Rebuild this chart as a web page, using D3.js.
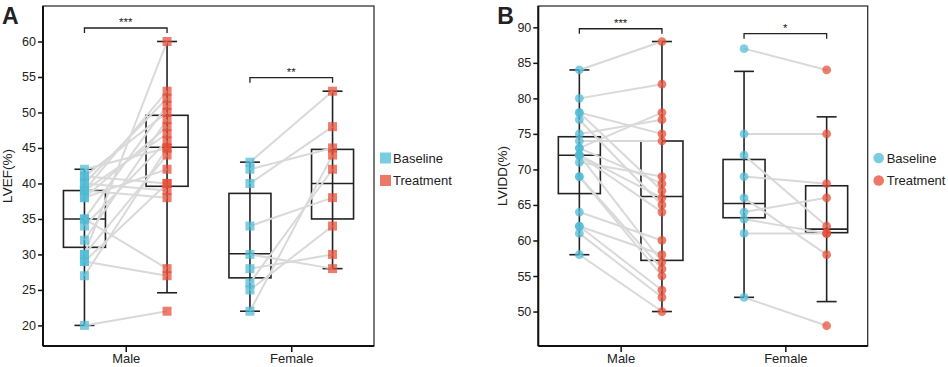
<!DOCTYPE html>
<html>
<head>
<meta charset="utf-8">
<script src="https://cdn.jsdelivr.net/npm/d3@7"></script>
<style>
	body { margin: 0; background: #ffffff; }
	text { font-family: "Liberation Sans", Arial, sans-serif; fill: #222222; }
</style>
</head>
<body>
<svg id="chart" width="948" height="367"></svg>
<script>

var vsGroups = ["Male", "Female"];
var vsSeries = ["Baseline", "Treatment"];

// LVEF (%) - panel A, paired values (baseline[i] -> treatment[i])
var vnLvefMaleBase   = [42, 41, 41, 40, 40, 39, 39, 39, 38, 38, 35, 35, 34, 32, 30, 30, 29, 29, 27, 20];
var vnLvefMaleTreat  = [45, 50, 40, 52, 39, 47, 38, 53, 42, 48, 28, 51, 46, 49, 60, 44, 40, 27, 45, 22];
var vnLvefFemaleBase  = [43, 42, 40, 34, 30, 28, 26, 25, 22];
var vnLvefFemaleTreat = [53, 45, 48, 38, 28, 30, 42, 34, 44];

// box stats: [whisker low, q1, median, q3, whisker high]
var vnLvefBoxMaleBase    = [20, 31, 35, 39, 42];
var vnLvefBoxMaleTreat   = [24.6, 39.6, 45.1, 49.6, 60];
var vnLvefBoxFemaleBase  = [22, 26.7, 30.1, 38.6, 43];
var vnLvefBoxFemaleTreat = [28, 35, 40, 44.8, 53];

var vnLvefTicks = [20, 25, 30, 35, 40, 45, 50, 55, 60];
var vsLvefSig = ["***", "**"];
var vnLvefSigAt = [61.9, 54.9];

// LVIDD (%) - panel B
var vnLviddMaleBase   = [84, 80, 78, 78, 77, 75, 74, 73, 73, 72, 72, 72, 71, 69, 69, 64, 62, 62, 61, 58];
var vnLviddMaleTreat  = [88, 82, 75, 67, 65, 77, 74, 78, 68, 66, 64, 57, 69, 56, 55, 60, 58, 53, 52, 50];
var vnLviddFemaleBase  = [87, 75, 72, 69, 66, 64, 63, 61, 52];
var vnLviddFemaleTreat = [84, 75, 62, 68, 58, 66, 61, 61, 48];

var vnLviddBoxMaleBase    = [58, 66.6, 72, 74.6, 84];
var vnLviddBoxMaleTreat   = [50, 57.2, 66.2, 74, 88];
var vnLviddBoxFemaleBase  = [52, 63.2, 65.2, 71.4, 83.8];
var vnLviddBoxFemaleTreat = [51.4, 61.1, 61.6, 67.7, 77.4];

var vnLviddTicks = [50, 55, 60, 65, 70, 75, 80, 85, 90];
var vsLviddSig = ["***", "*"];
var vnLviddSigAt = [89.8, 89.1];

var g_colorBase  = "#4DBBD5";
var g_colorTreat = "#E64B35";
var g_colorPair  = "#d9d9d9";

var g_domSVG = d3.select("#chart");

function funcDrawPanel(opt) {

	var nTop = 6, nBottom = 346;

	var scaleY = d3.scaleLinear().domain(opt.domain).range([nBottom, nTop]);
	var scaleX = d3.scalePoint().domain(vsGroups).range([opt.left, opt.right]).padding(0.5);
	var scaleOff = d3.scalePoint().domain(vsSeries).range([-41.3, 41.3]);
	var vColor = [g_colorBase, g_colorTreat];

	var g = g_domSVG.append("g");

	// frame
	g.append("rect")
		.attr("x", opt.left).attr("y", nTop)
		.attr("width", opt.right - opt.left).attr("height", nBottom - nTop)
		.attr("fill", "none").attr("stroke", "#333").attr("stroke-width", 1.3);

	var axisY = d3.axisLeft(scaleY).tickValues(opt.ticks).tickSize(5).tickPadding(2).tickSizeOuter(0);
	var gy = g.append("g").attr("transform", "translate(" + opt.left + ",0)").call(axisY);
	gy.select(".domain").attr("d", "M0," + nTop + "V" + nBottom).attr("stroke", "#111").attr("stroke-width", 2);
	gy.selectAll(".tick line").attr("stroke", "#111").attr("stroke-width", 1.5);
	gy.selectAll(".tick text").attr("font-size", "12.5px").attr("fill", "#222")
		.attr("font-family", "Liberation Sans, Arial, sans-serif");

	var axisX = d3.axisBottom(scaleX).tickSize(6).tickPadding(2).tickSizeOuter(0);
	var gx = g.append("g").attr("transform", "translate(0," + nBottom + ")").call(axisX);
	gx.select(".domain").attr("d", "M" + opt.left + ",0H" + opt.right).attr("stroke", "#111").attr("stroke-width", 2);
	gx.selectAll(".tick line").attr("stroke", "#111").attr("stroke-width", 1.5);
	gx.selectAll(".tick text").attr("font-size", "13px").attr("fill", "#222")
		.attr("font-family", "Liberation Sans, Arial, sans-serif");

	g.append("text")
		.attr("transform", "translate(" + (opt.left - 31) + "," + ((nTop + nBottom) / 2) + ") rotate(-90)")
		.attr("text-anchor", "middle")
		.attr("font-size", "13.5px")
		.text(opt.label);

	g.append("text")
		.attr("x", opt.left - 41).attr("y", 24)
		.attr("font-size", "23px").attr("font-weight", "bold").attr("fill", "#000")
		.text(opt.letter);

	// boxes
	var nBoxW = 42, nCapW = 20;
	vsGroups.forEach(function(grp, gi) {
		vsSeries.forEach(function(ser, si) {
			var b = opt.boxes[gi][si];
			var cx = scaleX(grp) + scaleOff(ser);
			g.append("line")
				.attr("x1", cx).attr("x2", cx)
				.attr("y1", scaleY(b[0])).attr("y2", scaleY(b[4]))
				.attr("stroke", "#222").attr("stroke-width", 1.6);
			[b[0], b[4]].forEach(function(v) {
				g.append("line")
					.attr("x1", cx - nCapW / 2).attr("x2", cx + nCapW / 2)
					.attr("y1", scaleY(v)).attr("y2", scaleY(v))
					.attr("stroke", "#222").attr("stroke-width", 1.6);
			});
			g.append("rect")
				.attr("x", cx - nBoxW / 2).attr("y", scaleY(b[3]))
				.attr("width", nBoxW).attr("height", scaleY(b[1]) - scaleY(b[3]))
				.attr("fill", "none").attr("stroke", "#222").attr("stroke-width", 1.6);
			g.append("line")
				.attr("x1", cx - nBoxW / 2).attr("x2", cx + nBoxW / 2)
				.attr("y1", scaleY(b[2])).attr("y2", scaleY(b[2]))
				.attr("stroke", "#222").attr("stroke-width", 1.6);
		});
	});

	// paired lines
	vsGroups.forEach(function(grp, gi) {
		var vBase = opt.values[gi][0], vTreat = opt.values[gi][1];
		g.selectAll(null)
			.data(d3.range(vBase.length))
			.enter()
			.append("line")
				.attr("x1", scaleX(grp) + scaleOff("Baseline"))
				.attr("x2", scaleX(grp) + scaleOff("Treatment"))
				.attr("y1", function(i) { return scaleY(vBase[i]); })
				.attr("y2", function(i) { return scaleY(vTreat[i]); })
				.attr("stroke", g_colorPair)
				.attr("stroke-width", 2);
	});

	// points
	vsGroups.forEach(function(grp, gi) {
		vsSeries.forEach(function(ser, si) {
			var cx = scaleX(grp) + scaleOff(ser);
			var sel = g.selectAll(null).data(opt.values[gi][si]).enter();
			if (opt.shape == "square") {
				sel.append("rect")
					.attr("x", cx - 4.5)
					.attr("y", function(d) { return scaleY(d) - 4.5; })
					.attr("width", 9).attr("height", 9)
					.attr("fill", vColor[si]).attr("fill-opacity", 0.72);
			} else {
				sel.append("circle")
					.attr("cx", cx)
					.attr("cy", function(d) { return scaleY(d); })
					.attr("r", 4.4)
					.attr("fill", vColor[si]).attr("fill-opacity", 0.72);
			}
		});
	});

	// significance brackets
	vsGroups.forEach(function(grp, gi) {
		var x1 = scaleX(grp) + scaleOff("Baseline");
		var x2 = scaleX(grp) + scaleOff("Treatment");
		var y = scaleY(opt.sigAt[gi]);
		g.append("path")
			.attr("d", "M" + x1 + "," + (y + 5) + "V" + y + "H" + x2 + "V" + (y + 5))
			.attr("fill", "none").attr("stroke", "#222").attr("stroke-width", 1.3);
		g.append("text")
			.attr("x", (x1 + x2) / 2).attr("y", y - 2)
			.attr("text-anchor", "middle")
			.attr("font-size", "11.5px")
			.text(opt.sig[gi]);
	});

	// legend
	vsSeries.forEach(function(ser, si) {
		var ly = 158 + si * 22.5;
		if (opt.shape == "square") {
			g.append("rect")
				.attr("x", opt.right + 6).attr("y", ly - 5.5)
				.attr("width", 11).attr("height", 11)
				.attr("fill", vColor[si]).attr("fill-opacity", 0.75);
		} else {
			g.append("circle")
				.attr("cx", opt.right + 11).attr("cy", ly)
				.attr("r", 5.3)
				.attr("fill", vColor[si]).attr("fill-opacity", 0.75);
		}
		g.append("text")
			.attr("x", opt.right + 19).attr("y", ly + 4.6)
			.attr("font-size", "13px")
			.text(ser);
	});
}

funcDrawPanel({
	letter: "A", label: "LVEF(%)", shape: "square",
	left: 43, right: 374, domain: [17.1, 65], ticks: vnLvefTicks,
	values: [[vnLvefMaleBase, vnLvefMaleTreat], [vnLvefFemaleBase, vnLvefFemaleTreat]],
	boxes: [[vnLvefBoxMaleBase, vnLvefBoxMaleTreat], [vnLvefBoxFemaleBase, vnLvefBoxFemaleTreat]],
	sig: vsLvefSig, sigAt: vnLvefSigAt
});

funcDrawPanel({
	letter: "B", label: "LVIDD(%)", shape: "circle",
	left: 538.3, right: 867.7, domain: [45.15, 93], ticks: vnLviddTicks,
	values: [[vnLviddMaleBase, vnLviddMaleTreat], [vnLviddFemaleBase, vnLviddFemaleTreat]],
	boxes: [[vnLviddBoxMaleBase, vnLviddBoxMaleTreat], [vnLviddBoxFemaleBase, vnLviddBoxFemaleTreat]],
	sig: vsLviddSig, sigAt: vnLviddSigAt
});

</script>
</body>
</html>
